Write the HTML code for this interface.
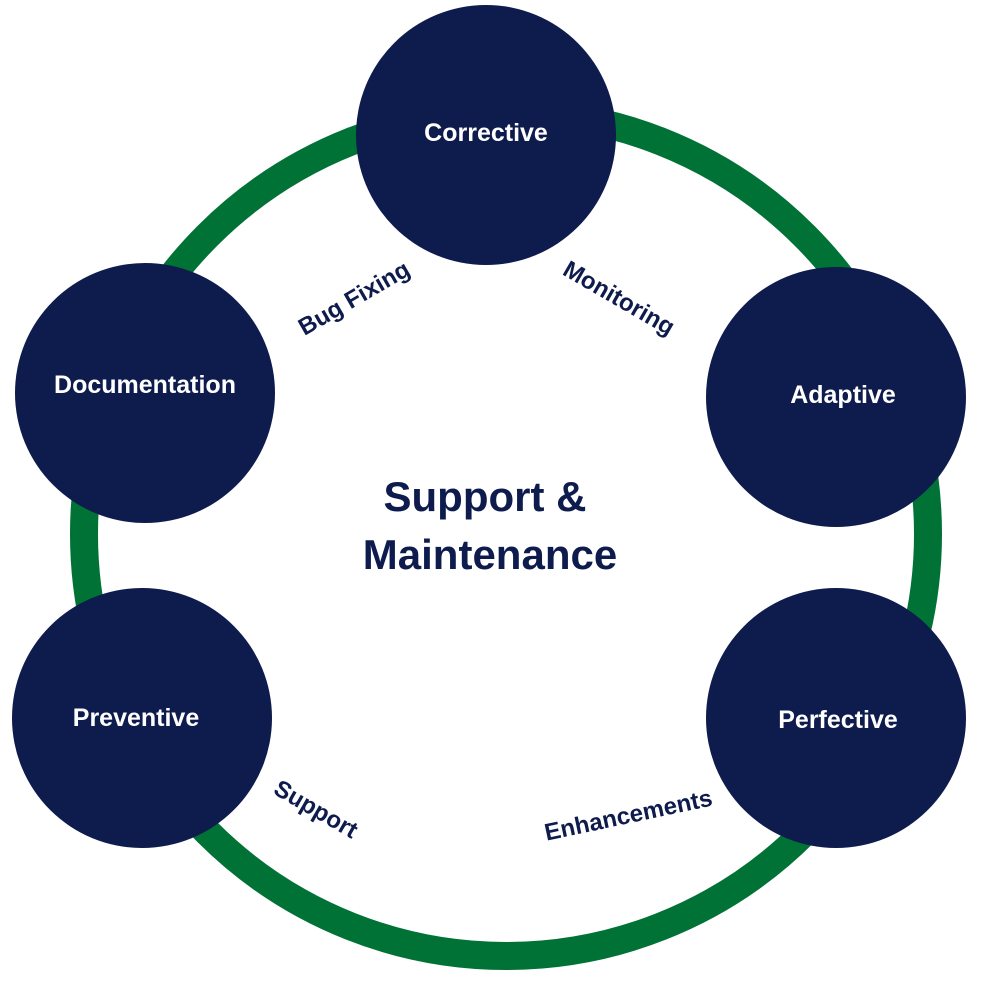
<!DOCTYPE html>
<html><head><meta charset="utf-8"><style>
html,body{margin:0;padding:0;background:#fff;}
</style></head><body>
<svg width="1000" height="1000" viewBox="0 0 1000 1000" xmlns="http://www.w3.org/2000/svg" font-family="Liberation Sans, sans-serif" font-weight="bold">
<circle cx="506" cy="534" r="422" fill="none" stroke="#007236" stroke-width="28"/>
<g fill="#0e1b4d">
<circle cx="486" cy="135" r="130"/>
<circle cx="145" cy="393" r="130"/>
<circle cx="836" cy="397" r="130"/>
<circle cx="142" cy="718" r="130"/>
<circle cx="836" cy="718" r="130"/>
</g>
<g fill="#fff" font-size="25" text-anchor="middle">
<text x="486" y="141">Corrective</text>
<text x="145" y="393">Documentation</text>
<text x="843" y="403">Adaptive</text>
<text x="136" y="726">Preventive</text>
<text x="838" y="728">Perfective</text>
</g>
<g fill="#0e1b4d" font-size="24" text-anchor="middle">
<text transform="translate(358,305) rotate(-30)">Bug Fixing</text>
<text transform="translate(615,305) rotate(30)">Monitoring</text>
<text transform="translate(312,816) rotate(30)">Support</text>
<text transform="translate(630,823) rotate(-12)">Enhancements</text>
</g>
<g fill="#0e1b4d" font-size="42" text-anchor="middle">
<text x="485" y="511">Support &amp;</text>
<text x="490" y="569">Maintenance</text>
</g>
</svg>
</body></html>
